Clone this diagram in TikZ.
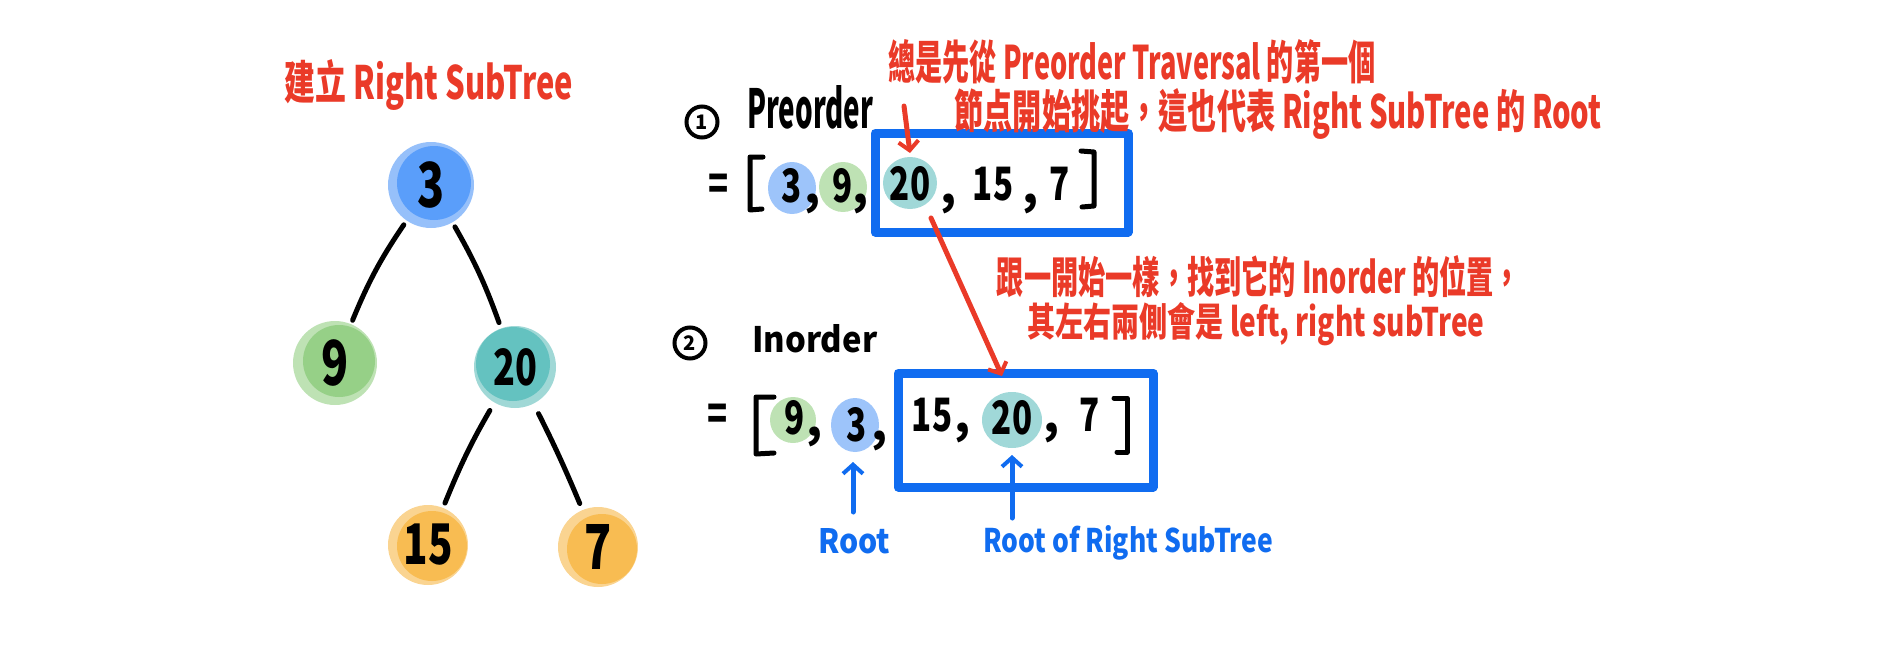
\documentclass[tikz,border=0pt]{standalone}
\usepackage{fontspec}
\usepackage{graphicx}
\setmainfont{Noto Sans CJK TC}
\usetikzlibrary{arrows.meta}
\definecolor{redc}{RGB}{234,58,40}
\definecolor{bluec}{RGB}{16,108,240}
\definecolor{hthree}{RGB}{150,192,250}
\definecolor{cthree}{RGB}{90,158,250}
\definecolor{hnine}{RGB}{190,226,180}
\definecolor{cnine}{RGB}{150,208,135}
\definecolor{htwenty}{RGB}{160,216,214}
\definecolor{ctwenty}{RGB}{100,194,192}
\definecolor{horange}{RGB}{250,212,145}
\definecolor{corange}{RGB}{248,188,82}
\definecolor{lblue}{RGB}{157,196,250}
\definecolor{lgreen}{RGB}{190,226,180}
\definecolor{lteal}{RGB}{160,216,216}
\newcommand{\fitto}[3]{\resizebox{#1pt}{#2pt}{#3}}
\newcommand{\narrowtxt}[1]{\scalebox{0.72}[1]{#1}}
\begin{document}
\begin{tikzpicture}[x=1pt,y=-1pt,
  tnode/.style={circle,minimum size=84pt,inner sep=0pt,font=\fontsize{62}{66}\selectfont\bfseries},
  edge/.style={line width=5pt,line cap=round},
  dig/.style={inner sep=0pt,font=\fontsize{46}{50}\selectfont\bfseries},
  brkline/.style={line width=5pt,line cap=round,line join=round},
  txt/.style={inner sep=0pt},
  redarrow/.style={draw=redc,line width=5pt,line cap=round,-{Straight Barb[length=9pt,width=20pt,line width=4pt]}},
  bluearrow/.style={draw=bluec,line width=5pt,line cap=round,-{Straight Barb[length=9pt,width=20pt,line width=4pt]}},
  bbox/.style={draw=bluec,line width=9pt,line join=round},
  circnum/.style={circle,draw,line width=4pt,minimum width=29pt,minimum height=31pt,inner sep=0pt,font=\fontsize{20}{22}\selectfont\bfseries}
]
\useasboundingbox (0,0) rectangle (1896,672);

% ---------- title ----------
\node[txt,text=redc] (title) at (429,85) {\fitto{288}{40}{\bfseries 建立 Right SubTree}};

% ---------- tree ----------
\fill[hthree] (431,185) circle (43);
\fill[cthree] (434,183) circle (37);
\fill[hnine] (335,363) circle (42);
\fill[cnine] (339,361) circle (36);
\fill[htwenty] (515,367) circle (41);
\fill[ctwenty] (513,364) circle (37);
\fill[horange] (428,545) circle (40);
\fill[corange] (432,546) circle (35);
\fill[horange] (598,547) circle (40);
\fill[corange] (602,549) circle (35);
\node[tnode] (n3) at (431,185) {\narrowtxt{3}};
\node[tnode] (n9) at (335,363) {\narrowtxt{9}};
\node[tnode] (n20) at (515,367) {\narrowtxt{\fontsize{50}{54}\selectfont 20}};
\node[tnode] (n15) at (428,545) {\narrowtxt{\fontsize{56}{60}\selectfont 15}};
\node[tnode] (n7) at (598,547) {\narrowtxt{7}};
\draw[edge,shorten <=6pt,shorten >=4pt] (n3) to[bend right=6] (n9);
\draw[edge,shorten <=6pt,shorten >=5pt] (n3) to[bend left=5] (n20);
\draw[edge,shorten <=8pt,shorten >=3pt] (n20) to[bend right=4] (n15);
\draw[edge,shorten <=10pt,shorten >=5pt] (n20) to[bend left=2] (n7);

% ---------- preorder ----------
\node[circnum] (c1) at (702,122) {1};
\node[txt,anchor=base west] (prelbl) at (747,128) {\fitto{126}{43}{\bfseries Preorder}};
\fill[lblue] (792,188) ellipse (24 and 26);
\fill[lgreen] (843,187) ellipse (24 and 25);
\fill[lteal] (910,183) ellipse (27 and 26);
\node[dig] (peq) at (719,187) {\narrowtxt{=}};
\draw[brkline] (763,157) -- (750,157) -- (750,210) -- (762,209);
\node[dig] (p3) at (792,186) {\narrowtxt{3}};
\node[dig,anchor=base] (pc1) at (813,203) {,};
\node[dig] (p9) at (843,186) {\narrowtxt{9}};
\node[dig,anchor=base] (pc2) at (861,203) {,};
\node[dig] (p20) at (910,184) {\narrowtxt{20}};
\node[dig,anchor=base] (pc3) at (949,203) {,};
\node[dig] (p15) at (993,184) {\narrowtxt{15}};
\node[dig,anchor=base] (pc4) at (1031,203) {,};
\node[dig] (p7) at (1060,184) {\narrowtxt{7}};
\draw[brkline] (1081,151) -- (1094,152) -- (1094,206) -- (1082,207);
\draw[bbox] (875,133) rectangle (1128,232);

% ---------- inorder ----------
\node[circnum] (c2) at (690,343) {2};
\node[txt,anchor=base west] (inlbl) at (752,352) {\fitto{125}{28}{\bfseries Inorder}};
\fill[lgreen] (793,420) ellipse (23 and 23);
\fill[lblue] (855,425) ellipse (24 and 27);
\fill[lteal] (1012,420) ellipse (30 and 28);
\node[dig] (ieq) at (718,417) {\narrowtxt{=}};
\draw[brkline] (774,397) -- (756,397) -- (756,454) -- (774,453);
\node[dig] (i9) at (795,418) {\narrowtxt{9}};
\node[dig,anchor=base] (ic1) at (815,436) {,};
\node[dig] (i3) at (857,425) {\narrowtxt{3}};
\node[dig,anchor=base] (ic2) at (880,440) {,};
\node[dig] (i15) at (932,415) {\narrowtxt{15}};
\node[dig,anchor=base] (ic3) at (963,432) {,};
\node[dig] (i20) at (1012,418) {\narrowtxt{20}};
\node[dig,anchor=base] (ic4) at (1052,432) {,};
\node[dig] (i7) at (1090,415) {\narrowtxt{7}};
\draw[brkline] (1114,398) -- (1127,398) -- (1127,452) -- (1117,452);
\draw[bbox] (898,373) rectangle (1153,487);

% ---------- blue labels ----------
\node[txt,anchor=base west,text=bluec] (root) at (818,553) {\fitto{72}{25}{\bfseries Root}};
\node[txt,anchor=base west,text=bluec] (rootr) at (983,552) {\fitto{290}{27}{\bfseries Root of Right SubTree}};
\coordinate (ra) at (853,512);
\coordinate (rb) at (853,462);
\coordinate (rra) at (1012,518);
\coordinate (rrb) at (1012,455);
\draw[bluearrow] (ra) -- (rb);
\draw[bluearrow] (rra) -- (rrb);

% ---------- red notes ----------
\node[txt,text=redc] (r1a) at (1132,62) {\fitto{487}{40}{\bfseries 總是先從 Preorder Traversal 的第一個}};
\node[txt,text=redc] (r1b) at (1278,114) {\fitto{647}{40}{\bfseries 節点開始挑起，這也代表 Right SubTree 的 Root}};
\node[txt,text=redc] (r2a) at (1259,277) {\fitto{524}{38}{\bfseries 跟一開始一樣，找到它的 Inorder 的位置，}};
\node[txt,text=redc] (r2b) at (1256,324) {\fitto{457}{34}{\bfseries 其左右兩側會是 left, right subTree}};
\coordinate (a1s) at (904,106);
\coordinate (a1e) at (910,153);
\coordinate (a2s) at (931,218);
\coordinate (a2e) at (1002,376);
\draw[redarrow] (a1s) -- (a1e);
\draw[redarrow] (a2s) -- (a2e);
\end{tikzpicture}
\end{document}
